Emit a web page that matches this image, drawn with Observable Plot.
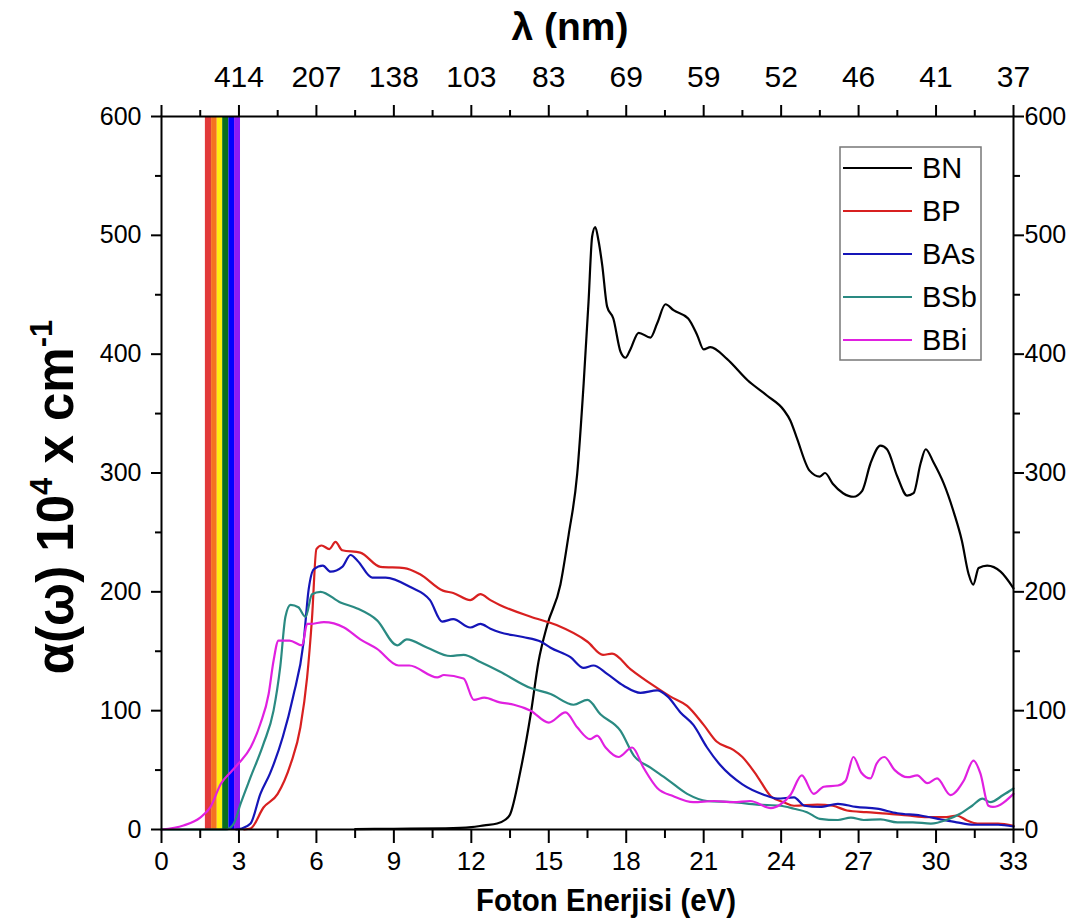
<!DOCTYPE html>
<html><head><meta charset="utf-8">
<script src="https://cdn.jsdelivr.net/npm/d3@7"></script>
<script src="https://cdn.jsdelivr.net/npm/@observablehq/plot@0.6"></script>
<style>body{margin:0;background:#fff}#chart{width:1075px;height:923px}</style>
</head><body><div id="chart"></div>
<script>
const seriesNames = ["BN", "BP", "BAs", "BSb", "BBi"];
const seriesColors = ["#000000", "#d82020", "#1515b8", "#2a8a82", "#e020e0"];

const bnE = [7.5, 9, 11, 12, 12.5, 13, 13.3, 13.5, 13.9, 14.3, 14.6, 14.94, 15.45, 15.77, 16.1, 16.35, 16.54, 16.68, 16.8, 16.93, 17.07, 17.26, 17.5, 17.78, 17.97, 18.16, 18.48, 18.94, 19.2, 19.52, 19.83, 20.4, 20.75, 21.0, 21.26, 21.9, 22.7, 23.46, 24.1, 24.36, 24.6, 25.1, 25.5, 25.7, 26.0, 26.4, 26.8, 27.14, 27.46, 27.85, 28.1, 28.5, 28.88, 29.13, 29.4, 29.6, 29.9, 30.3, 30.7, 31.0, 31.26, 31.44, 31.65, 31.98, 32.5, 33];
const bnV = [0.3, 0.6, 1, 2, 3.5, 5, 8, 12.6, 49, 97, 141, 172, 206, 248, 299, 375, 444, 499, 507, 495, 475, 440, 430, 402, 397, 404, 418, 414, 426, 442, 437, 430, 416, 404, 406, 396, 378, 365, 353, 344, 330, 302, 297, 300, 291, 283, 280, 285, 308, 323, 320, 297, 281, 283, 308, 320, 309, 291, 266, 243, 215, 206, 220, 222, 217, 203];

const bpE = [3.2, 3.45, 3.95, 4.5, 5.0, 5.38, 5.64, 5.83, 6.0, 6.2, 6.5, 6.74, 7.0, 7.7, 8.48, 9.4, 10.0, 10.9, 11.3, 11.96, 12.35, 12.74, 13.1, 14.3, 15.3, 16.5, 17.1, 17.45, 18.16, 19.06, 19.7, 20.36, 21.0, 21.5, 22.15, 22.5, 23.07, 23.6, 24.1, 24.5, 25.4, 26.0, 26.55, 27.3, 28.1, 28.9, 29.66, 30.4, 30.8, 31.2, 31.6, 32.4, 33];
const bpV = [0, 0.8, 18.5, 30, 55, 86, 128, 178, 236, 239, 236, 242, 235, 233, 221, 220, 215, 201, 199, 193, 198, 193, 189, 179, 172, 158, 147, 148, 135, 121, 112, 104, 88, 74, 67, 61, 45, 28, 23, 20, 21, 20, 16, 14.6, 13.4, 11.8, 10.4, 10.4, 11.8, 7.6, 5, 5, 3];

const basE = [2.9, 3.1, 3.45, 3.83, 4.2, 4.7, 5.1, 5.5, 5.7, 5.9, 6.25, 6.55, 7.0, 7.32, 7.6, 8.16, 8.68, 9.64, 10.4, 10.87, 11.3, 11.96, 12.35, 12.74, 13.1, 14.0, 14.7, 15.07, 15.84, 16.35, 16.73, 17.26, 17.9, 18.55, 19.2, 19.6, 20.1, 20.6, 21.13, 21.65, 22.5, 23.3, 23.85, 24.5, 24.9, 25.5, 26.2, 26.9, 27.7, 28.5, 29.4, 30.2, 30.8, 31.45, 32.4, 33];
const basV = [0, 0.8, 5, 30, 47, 78, 112, 157, 202, 219, 222, 217, 221, 231, 226, 212, 212, 204, 193, 175, 177, 170, 173, 169, 166, 162, 158, 153, 145, 136, 138, 131, 121, 115, 117, 112, 98.5, 88, 69, 54, 38, 29.5, 26, 27, 20, 19, 21.6, 19, 17.5, 13.7, 11.8, 8.4, 6, 4, 4, 2.5];

const bsbE = [0, 2.5, 2.8, 3.06, 3.45, 3.95, 4.34, 4.6, 4.8, 5.0, 5.3, 5.58, 5.83, 6.16, 6.93, 7.58, 8.35, 9.13, 9.5, 10.3, 11.19, 11.7, 12.35, 13.1, 14.3, 15.07, 15.96, 16.5, 17.0, 17.78, 18.3, 18.94, 19.6, 20.36, 21.13, 22.15, 23.07, 23.97, 24.5, 25.0, 25.5, 26.2, 26.7, 27.2, 27.85, 28.5, 29.1, 29.8, 30.4, 30.95, 31.4, 31.8, 32.1, 32.6, 33];
const bsbV = [0, 0, 5, 21.5, 44, 72, 100, 137, 179, 189, 187, 179, 198, 200, 191, 186, 176, 155, 160, 153, 146, 147, 141, 133, 119, 114, 105, 109, 97, 83, 62, 52, 42, 30, 24, 23, 21, 20, 17.5, 14.6, 9, 8, 10, 8, 8.5, 6, 6, 5, 8, 13.4, 20, 26, 23, 29, 34.5];

const bbiE = [0, 0.85, 1.5, 1.9, 2.3, 2.67, 2.98, 3.45, 3.83, 4.15, 4.34, 4.53, 4.96, 5.45, 5.64, 5.77, 6.29, 7.07, 7.7, 8.35, 9.18, 9.6, 10.68, 10.94, 11.7, 12.1, 12.5, 13.1, 13.65, 14.3, 15.0, 15.65, 16.1, 16.6, 16.87, 17.2, 17.7, 18.23, 18.67, 19.2, 19.83, 20.6, 21.4, 22.15, 22.8, 23.6, 23.97, 24.36, 24.8, 25.26, 25.65, 26.2, 26.5, 26.8, 27.1, 27.46, 27.7, 28.0, 28.4, 28.9, 29.27, 29.66, 30.04, 30.56, 31.07, 31.45, 31.72, 32.03, 32.2, 33];
const bbiV = [0, 3.4, 10, 19, 38.5, 48, 55.5, 69, 89, 114, 142, 159, 159, 155, 173, 173, 174.5, 170, 160, 152, 138, 138, 128, 130, 127, 109, 111, 107, 105, 100, 90, 98.5, 86, 76, 79, 69, 61, 69, 52, 35, 28, 23, 24, 23, 24, 18, 21, 29, 45.5, 30, 36, 37, 41, 61, 48, 43, 55.5, 61, 50, 44, 45.5, 39, 43, 29, 41, 58, 47, 20, 19, 30];

const seriesE = [bnE, bpE, basE, bsbE, bbiE];
const seriesV = [bnV, bpV, basV, bsbV, bbiV];

const xDomain = [0, 33];
const yDomain = [0, 600];
const xTicks = [0, 3, 6, 9, 12, 15, 18, 21, 24, 27, 30, 33];
const xMinorTicks = [1.5, 4.5, 7.5, 10.5, 13.5, 16.5, 19.5, 22.5, 25.5, 28.5, 31.5];
const lambdaLabels = ["", "414", "207", "138", "103", "83", "69", "59", "52", "46", "41", "37"];
const yTicks = [0, 100, 200, 300, 400, 500, 600];
const yMinorTicks = [50, 150, 250, 350, 450, 550];

const bandEdges = [1.70, 1.94, 2.16, 2.37, 2.61, 2.83, 3.06];
const bandColors = ["#e23a3a", "#f47320", "#ffee10", "#0b6e1c", "#0000ff", "#8a1cf5"];

const sans = "'Liberation Sans', Arial, sans-serif";

const bands = bandColors.map((c, i) => ({x1: bandEdges[i], x2: bandEdges[i + 1], color: c}));
const bandMarks = bands.map(b => Plot.rect([b], {x1: "x1", x2: "x2", y1: () => yDomain[0], y2: () => yDomain[1], fill: b.color}));

const lineMarks = seriesNames.map((n, i) => {
  const rows = seriesE[i].map((e, j) => ({E: e, V: seriesV[i][j]}));
  return Plot.line(rows, {x: "E", y: "V", stroke: seriesColors[i], strokeWidth: 2.2, curve: "monotone-x"});
});

const plot = Plot.plot({
  width: 1075, height: 923,
  marginLeft: 161, marginRight: 62, marginTop: 116, marginBottom: 94,
  x: {domain: xDomain},
  y: {domain: yDomain},
  style: {fontFamily: sans, fontSize: "24px", color: "#000", background: "#fff"},
  marks: [
    ...bandMarks,
    ...lineMarks,
    Plot.frame({strokeWidth: 2}),
    Plot.axisX(xTicks, {anchor: "bottom", tickSize: 14, tickPadding: 8, strokeWidth: 2, fontSize: 26, label: null, ariaLabel: "xb"}),
    Plot.axisX(xMinorTicks, {anchor: "bottom", tickSize: 9, strokeWidth: 2, text: null, label: null}),
    Plot.axisX(xTicks, {anchor: "top", tickSize: 12, tickPadding: 18, strokeWidth: 2, fontSize: 30, tickFormat: d => lambdaLabels[xTicks.indexOf(d)], label: null, ariaLabel: "xt"}),
    Plot.axisX(xMinorTicks, {anchor: "top", tickSize: 7, strokeWidth: 2, text: null, label: null}),
    Plot.axisY(yTicks, {anchor: "left", tickSize: 10, tickPadding: 10, strokeWidth: 2, fontSize: 25, label: null}),
    Plot.axisY(yMinorTicks, {anchor: "left", tickSize: 6, strokeWidth: 2, text: null, label: null}),
    Plot.axisY(yTicks, {anchor: "right", tickSize: 10, tickPadding: 1, strokeWidth: 2, fontSize: 25, label: null}),
    Plot.axisY(yMinorTicks, {anchor: "right", tickSize: 6, strokeWidth: 2, text: null, label: null})
  ]
});

const svg = d3.select(plot);
// horizontally condense the x tick labels (reference uses a narrow face)
function condense(sel, s) {
  sel.each(function() {
    const el = d3.select(this);
    const tr = el.attr("transform");
    if (tr) el.attr("transform", tr + ` scale(${s},1)`);
    else {
      const x = +el.attr("x") || 0, y = +el.attr("y") || 0;
      el.attr("x", null).attr("y", null).attr("transform", `translate(${x},${y}) scale(${s},1)`);
    }
  });
}
condense(svg.selectAll('g[aria-label="xb"] text'), 0.88);
condense(svg.selectAll('g[aria-label="xt"] text'), 0.8);

// y label
const yl = svg.append("text").attr("transform", "translate(73,497) rotate(-90)")
  .attr("text-anchor", "middle").attr("font-family", sans).attr("font-weight", "bold").attr("font-size", 51).attr("fill", "#000");
yl.append("tspan").text("α(ω) 10");
yl.append("tspan").attr("dy", -21).attr("font-size", 31).text("4");
yl.append("tspan").attr("dy", 21).text(" x cm");
yl.append("tspan").attr("dy", -21).attr("font-size", 31).text("-1");
// top title
svg.append("text").attr("x", 570).attr("y", 40).attr("text-anchor", "middle")
  .attr("font-family", sans).attr("font-weight", "bold").attr("font-size", 39).attr("fill", "#000").text("λ (nm)");
// bottom title
svg.append("text").attr("transform", "translate(606,911) scale(0.92,1)").attr("text-anchor", "middle")
  .attr("font-family", sans).attr("font-weight", "bold").attr("font-size", 32).attr("fill", "#000").text("Foton Enerjisi (eV)");
// legend
const lg = svg.append("g").attr("transform", "translate(840,147)");
lg.append("rect").attr("width", 141).attr("height", 213).attr("fill", "#fff").attr("stroke", "#777").attr("stroke-width", 1.5);
seriesNames.forEach((n, i) => {
  const yy = 21 + i * 43;
  lg.append("line").attr("x1", 3).attr("x2", 72).attr("y1", yy).attr("y2", yy).attr("stroke", seriesColors[i]).attr("stroke-width", 2.2);
  lg.append("text").attr("x", 82).attr("y", yy).attr("dy", "0.36em").attr("text-anchor", "start")
    .attr("font-family", sans).attr("font-size", 29).attr("fill", "#000").text(n);
});

document.getElementById("chart").appendChild(plot);
</script>
</body></html>
